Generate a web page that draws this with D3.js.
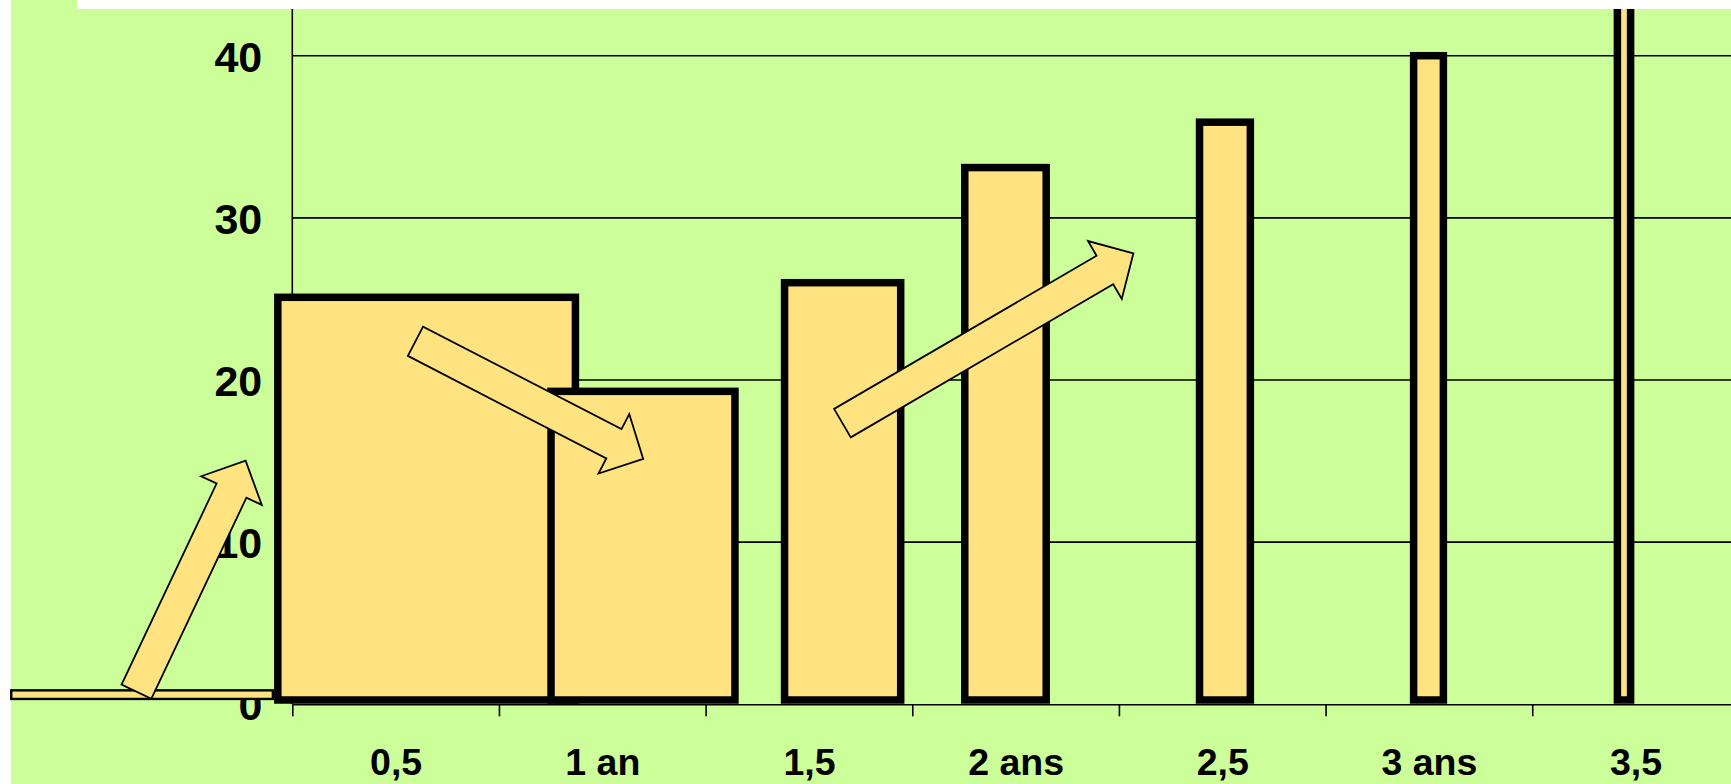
<!DOCTYPE html>
<html><head><meta charset="utf-8">
<script src="https://cdn.jsdelivr.net/npm/d3@7"></script>
<style>html,body{margin:0;padding:0;background:#fff;overflow:hidden}</style>
</head><body>
<svg id="chart" width="1731" height="784"></svg>
<script>
// ---- data ----
const categories   = ["0,5", "1 an", "1,5", "2 ans", "2,5", "3 ans", "3,5"];
const categoryAges = [0.5, 1, 1.5, 2, 2.5, 3, 3.5];
const yTickValues  = [0, 10, 20, 30, 40];

// bars: value and horizontal extent (in years on the x axis)
const barValues = [25.1, 19.3, 26.0, 33.1, 35.9, 40.0, 46.0];
const barStart  = [0.215, 0.876, 1.441, 1.877, 2.445, 2.963, 3.456];
const barEnd    = [0.935, 1.321, 1.722, 2.074, 2.568, 3.035, 3.488];

// thin flat bar at the origin
const flatBarStart = [-0.43];
const flatBarEnd   = [0.203];
const flatBarLow   = [0.33];
const flatBarHigh  = [0.86];

// block arrows (from / to, in data units)
const arrowFromAge   = [-0.127, 0.548, 1.581];
const arrowFromValue = [0.78, 22.39, 17.34];
const arrowToAge     = [0.137, 1.099, 2.285];
const arrowToValue   = [15.02, 15.13, 27.81];

// ---- drawing ----
const W = 1731, H = 784;
const svg = d3.select("#chart");
const FONT = "'Liberation Sans', Arial, Helvetica, sans-serif";
const GREEN = "#CCFF99", BAR = "#FFE381";

const x = d3.scaleLinear().domain([0.25, 3.75]).range([292.3, 1738.9]);
const y = d3.scaleLinear().domain([0, 40]).range([704.3, 55.7]);

// background
svg.append("rect").attr("x", 11).attr("y", 0).attr("width", W - 11).attr("height", H).attr("fill", GREEN);

// gridlines
svg.append("g").selectAll("line").data(yTickValues.filter(v => v > 0)).join("line")
  .attr("x1", x(0.25)).attr("x2", W)
  .attr("y1", d => y(d)).attr("y2", d => y(d))
  .attr("stroke", "#000").attr("stroke-width", 1.6);

// y axis line
svg.append("line").attr("x1", x(0.25)).attr("x2", x(0.25)).attr("y1", 0).attr("y2", y(0))
  .attr("stroke", "#000").attr("stroke-width", 1.6);

// x axis: ticks at category boundaries
const boundaries = categoryAges.map(a => a - 0.25);
const xAxis = svg.append("g").attr("transform", `translate(0,${y(0)})`)
  .call(d3.axisBottom(x).tickValues(boundaries).tickSize(12).tickSizeOuter(0).tickFormat(""));
xAxis.selectAll("path,line").attr("stroke", "#000").attr("stroke-width", 1.6);

// x labels at category centres
const xLab = svg.append("g").attr("transform", `translate(0,${y(0)})`)
  .call(d3.axisBottom(x).tickValues(categoryAges).tickSize(0).tickPadding(44)
    .tickFormat((d, i) => categories[i]));
xLab.select(".domain").remove();
xLab.selectAll("text").attr("font-family", FONT).attr("font-weight", "bold")
  .attr("font-size", 37.5).attr("fill", "#000");

// y labels
const yLab = svg.append("g").attr("transform", `translate(${x(0.25)},0)`)
  .call(d3.axisLeft(y).tickValues(yTickValues).tickSize(0).tickPadding(30).tickFormat(d3.format("d")));
yLab.select(".domain").remove();
yLab.selectAll("text").attr("font-family", FONT).attr("font-weight", "bold")
  .attr("font-size", 43).attr("fill", "#000").attr("dy", "0.36em");

// bars
const SW = 7.5;
const baseY = y(0) - 4.3;
svg.append("g").selectAll("rect").data(barValues).join("rect")
  .attr("x", (d, i) => x(barStart[i]))
  .attr("width", (d, i) => x(barEnd[i]) - x(barStart[i]))
  .attr("y", d => y(d))
  .attr("height", d => baseY - y(d))
  .attr("fill", BAR).attr("stroke", "#000").attr("stroke-width", SW);

// flat bar
svg.append("g").selectAll("rect").data(flatBarStart).join("rect")
  .attr("x", (d, i) => x(flatBarStart[i]))
  .attr("width", (d, i) => x(flatBarEnd[i]) - x(flatBarStart[i]))
  .attr("y", (d, i) => y(flatBarHigh[i]))
  .attr("height", (d, i) => y(flatBarLow[i]) - y(flatBarHigh[i]))
  .attr("fill", BAR).attr("stroke", "#000").attr("stroke-width", 2.4);

// block arrows
function arrowPath(x0, y0, x1, y1) {
  const sw = 33, hw = 67, hl = 33;
  const dx = x1 - x0, dy = y1 - y0, len = Math.hypot(dx, dy);
  const ux = dx / len, uy = dy / len, nx = -uy, ny = ux;
  const bx = x1 - ux * hl, by = y1 - uy * hl;
  const pts = [
    [x0 + nx * sw / 2, y0 + ny * sw / 2],
    [bx + nx * sw / 2, by + ny * sw / 2],
    [bx + nx * hw / 2, by + ny * hw / 2],
    [x1, y1],
    [bx - nx * hw / 2, by - ny * hw / 2],
    [bx - nx * sw / 2, by - ny * sw / 2],
    [x0 - nx * sw / 2, y0 - ny * sw / 2]
  ];
  return d3.line()(pts) + "Z";
}
svg.append("g").selectAll("path").data(arrowFromAge).join("path")
  .attr("d", (d, i) => arrowPath(x(arrowFromAge[i]), y(arrowFromValue[i]), x(arrowToAge[i]), y(arrowToValue[i])))
  .attr("fill", BAR).attr("stroke", "#000").attr("stroke-width", 1.8).attr("stroke-linejoin", "miter");

// white top band
svg.append("rect").attr("x", 77).attr("y", 0).attr("width", W - 77).attr("height", 9).attr("fill", "#fff");
</script>
</body></html>
